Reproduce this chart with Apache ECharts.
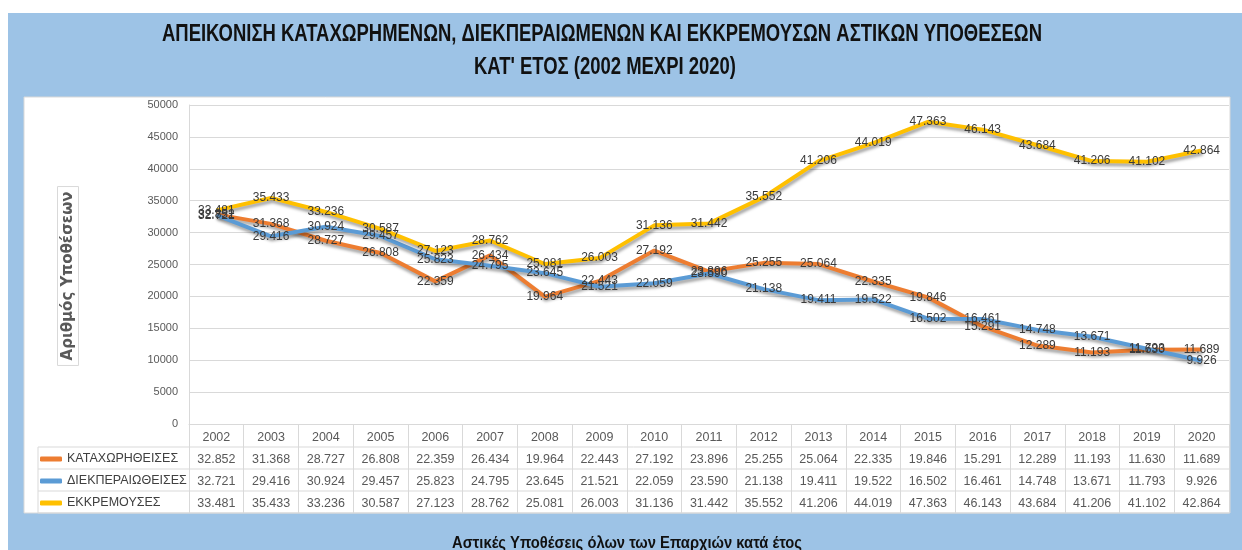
<!DOCTYPE html>
<html>
<head>
<meta charset="utf-8">
<script src="https://cdn.jsdelivr.net/npm/echarts@6/dist/echarts.min.js"></script>
<style>
html,body{margin:0;padding:0;background:#fff;}
#c{width:1242px;height:550px;}
</style>
</head>
<body>
<div id="c"></div>
<script>
// ---- data ----
const years = ['2002','2003','2004','2005','2006','2007','2008','2009','2010','2011','2012','2013','2014','2015','2016','2017','2018','2019','2020'];
const registered = [32852,31368,28727,26808,22359,26434,19964,22443,27192,23896,25255,25064,22335,19846,15291,12289,11193,11630,11689];
const resolved   = [32721,29416,30924,29457,25823,24795,23645,21521,22059,23590,21138,19411,19522,16502,16461,14748,13671,11793,9926];
const pending    = [33481,35433,33236,30587,27123,28762,25081,26003,31136,31442,35552,41206,44019,47363,46143,43684,41206,41102,42864];
const seriesNames = ['ΚΑΤΑΧΩΡΗΘΕΙΣΕΣ','ΔΙΕΚΠΕΡΑΙΩΘΕΙΣΕΣ','ΕΚΚΡΕΜΟΥΣΕΣ'];
const yMin = 0, yMax = 50000, yStep = 5000;
const titleLines = ['ΑΠΕΙΚΟΝΙΣΗ ΚΑΤΑΧΩΡΗΜΕΝΩΝ, ΔΙΕΚΠΕΡΑΙΩΜΕΝΩΝ ΚΑΙ ΕΚΚΡΕΜΟΥΣΩΝ ΑΣΤΙΚΩΝ ΥΠΟΘΕΣΕΩΝ','ΚΑΤ\' ΕΤΟΣ (2002 ΜΕΧΡΙ 2020)'];
const yName = 'Αριθμός Υποθέσεων';
const caption = 'Αστικές Υποθέσεις όλων των Επαρχιών κατά έτος';

// ---- layout ----
const W = 1242, H = 550;
const GL = 189, GR = 1229, GT = 105, GB = 424;
const ROW = 22;
const TABLE_LEFT = 38;
const SANS = '"Liberation Sans", Arial, sans-serif';
const colors = ['#ED7D31', '#5B9BD5', '#FFC000'];

function fmt(v){ return Math.floor(v/1000) + '.' + String(v % 1000).padStart(3,'0'); }

const ctx = document.createElement('canvas').getContext('2d');
function textWidth(font, t){ ctx.font = font; return ctx.measureText(t).width; }

const titleFont = 'bold 24px "Liberation Sans", Arial, sans-serif';
const titleScale = 880 / textWidth(titleFont, titleLines[0]);
const capFont = 'bold 17px "Liberation Sans", Arial, sans-serif';
const capScale = 350 / textWidth(capFont, caption);

const chart = echarts.init(document.getElementById('c'), null, {renderer:'canvas'});

const tableRows = [registered, resolved, pending];
const rowAxes = tableRows.map((arr, k) => ({
  type:'category', gridIndex:0, position:'bottom', offset: ROW*(k+1),
  data: arr.map(fmt), boundaryGap:true,
  axisLine:{show:false}, axisTick:{show:false}, splitLine:{show:false},
  axisLabel:{interval:0, margin:7, fontSize:12.5, color:'#595959', fontFamily:SANS}
}));

const lineEls = [];
for (let k = 0; k < 4; k++) {
  const y = GB + 23 + ROW*k;
  lineEls.push({type:'line', shape:{x1:TABLE_LEFT, y1:y, x2:GR, y2:y}, style:{stroke:'#d9d9d9', lineWidth:1}, z:10, silent:true});
}
lineEls.push({type:'line', shape:{x1:TABLE_LEFT, y1:GB+23, x2:TABLE_LEFT, y2:GB+23+ROW*3}, style:{stroke:'#d9d9d9', lineWidth:1}, z:10, silent:true});

const option = {
  animation:false,
  backgroundColor:'#ffffff',
  grid:{left:GL, right:W-GR, top:GT, bottom:H-GB, containLabel:false},
  legend:{
    orient:'vertical', left:TABLE_LEFT+2, top:GB+28, padding:0, itemWidth:22, itemHeight:5, itemGap:8,
    icon:'roundRect', data:seriesNames,
    textStyle:{fontSize:12.5, color:'#404040', fontFamily:SANS, lineHeight:14}
  },
  xAxis:[{
    type:'category', gridIndex:0, position:'bottom', data:years, boundaryGap:true,
    axisLine:{show:true, lineStyle:{color:'#d9d9d9', width:1}},
    axisTick:{show:true, interval:0, length:89, lineStyle:{color:'#d9d9d9', width:1}},
    axisLabel:{interval:0, margin:7, fontSize:12.5, color:'#595959', fontFamily:SANS},
    splitLine:{show:false}
  }].concat(rowAxes),
  yAxis:{
    type:'value', min:yMin, max:yMax, interval:yStep,
    axisLine:{show:true, lineStyle:{color:'#d9d9d9'}},
    axisTick:{show:false},
    axisLabel:{fontSize:11, color:'#595959', fontFamily:SANS, margin:11, formatter:v => String(v)},
    splitLine:{lineStyle:{color:'#d9d9d9', width:1}}
  },
  graphic:[
    {type:'rect', shape:{x:8, y:13, width:W-8, height:H-13}, style:{fill:'#9DC3E6'}, z:-10, silent:true},
    {type:'rect', shape:{x:24, y:97, width:1206, height:416}, style:{fill:'#ffffff', stroke:'#d9d9d9', lineWidth:1}, z:-9, silent:true},
    {type:'text', x:602, y:34, scaleX:titleScale, style:{text:titleLines[0], font:titleFont, fill:'#111', textAlign:'center', textVerticalAlign:'middle'}, z:10},
    {type:'text', x:605, y:67, scaleX:titleScale, style:{text:titleLines[1], font:titleFont, fill:'#111', textAlign:'center', textVerticalAlign:'middle'}, z:10},
    {type:'text', x:627, y:543, scaleX:capScale, style:{text:caption, font:capFont, fill:'#111', textAlign:'center', textVerticalAlign:'middle'}, z:10},
    {type:'text', x:68, y:276, rotation:Math.PI/2, style:{text:yName, font:'bold 15px "DejaVu Sans"', fill:'#595959', textAlign:'center', textVerticalAlign:'middle', borderColor:'#d9d9d9', borderWidth:1, padding:[3,5]}, z:10}
  ].concat(lineEls),
  series:[registered, resolved, pending].map((arr, i) => ({
    name:seriesNames[i], type:'line', data:arr, xAxisIndex:0, yAxisIndex:0,
    symbol:'circle', symbolSize:1, showSymbol:true,
    itemStyle:{color:colors[i]},
    lineStyle:{color:colors[i], width:4, shadowColor:'rgba(0,0,0,0.35)', shadowBlur:3, shadowOffsetX:1, shadowOffsetY:3},
    label:{show:true, position:'inside', formatter:p => fmt(p.value), fontSize:12, color:'#3a3a3a', fontFamily:SANS},
    emphasis:{disabled:true}
  }))
};
chart.setOption(option);
</script>
</body>
</html>
